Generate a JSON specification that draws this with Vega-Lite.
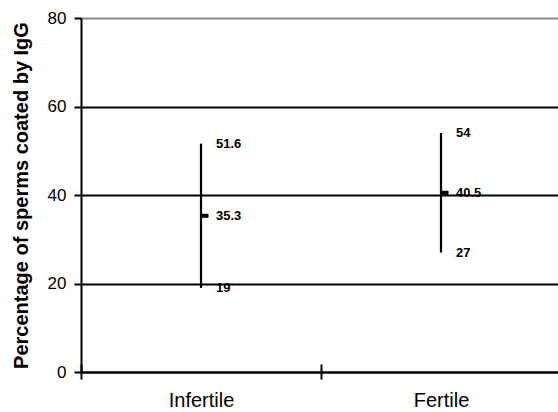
{
  "$schema": "https://vega.github.io/schema/vega-lite/v6.json",
  "autosize": "none",
  "width": 480,
  "height": 354,
  "padding": {"left": 81, "top": 18, "right": 0, "bottom": 40},
  "background": "white",
  "config": {
    "view": {"stroke": null},
    "font": "Liberation Sans"
  },
  "data": {
    "values": [
      {"group": "Infertile", "stat": "high", "value": 51.6},
      {"group": "Infertile", "stat": "mean", "value": 35.3},
      {"group": "Infertile", "stat": "low", "value": 19},
      {"group": "Fertile", "stat": "high", "value": 54},
      {"group": "Fertile", "stat": "mean", "value": 40.5},
      {"group": "Fertile", "stat": "low", "value": 27}
    ]
  },
  "resolve": {"axis": {"x": "independent"}},
  "layer": [
    {
      "mark": {"type": "rule", "color": "black", "strokeWidth": 2.2},
      "encoding": {
        "x": {
          "field": "group", "type": "nominal", "sort": ["Infertile", "Fertile"],
          "scale": {"paddingInner": 0, "paddingOuter": 0},
          "axis": {
            "orient": "bottom",
            "title": null, "labelAngle": 0, "labelFontSize": 20, "labelColor": "black",
            "labelFont": "Liberation Sans", "labelPadding": 11,
            "tickBand": "extent", "tickSize": 7, "tickWidth": 2, "tickColor": "black",
            "domainColor": "black", "domainWidth": 2, "grid": false
          }
        },
        "y": {
          "aggregate": "min", "field": "value", "type": "quantitative",
          "scale": {"domain": [0, 80], "nice": false, "zero": true},
          "axis": {
            "title": "Percentage of sperms coated by IgG",
            "titleFontSize": 20, "titleFontWeight": "bold", "titleColor": "black",
            "titleFont": "Liberation Sans",
            "titleX": -54, "titleY": 177, "titleAlign": "center", "titleBaseline": "alphabetic", "titleAngle": -90,
            "values": [0, 20, 40, 60, 80],
            "labelFontSize": 17, "labelColor": "black", "labelPadding": 8,
            "tickSize": 7, "tickWidth": 2, "tickColor": "black",
            "domainColor": "black", "domainWidth": 2,
            "grid": true, "gridWidth": 2,
            "gridColor": {"condition": {"test": "datum.value == 80", "value": "#888888"}, "value": "black"}
          }
        },
        "y2": {"aggregate": "max", "field": "value"}
      }
    },
    {
      "transform": [{"filter": "datum.stat == 'mean'"}],
      "mark": {"type": "tick", "color": "black", "opacity": 1, "size": 7, "thickness": 4, "xOffset": 4, "orient": "horizontal"},
      "encoding": {
        "x": {
          "field": "group", "type": "nominal", "sort": ["Infertile", "Fertile"],
          "axis": {
            "orient": "bottom",
            "title": null, "labels": false, "domain": false, "grid": false,
            "tickBand": "extent", "tickSize": -8, "tickWidth": 2, "tickColor": "black"
          }
        },
        "y": {"field": "value", "type": "quantitative"}
      }
    },
    {
      "mark": {"type": "text", "align": "left", "baseline": "middle", "dx": 15, "fontSize": 13, "fontWeight": "bold", "color": "black"},
      "encoding": {
        "x": {"field": "group", "type": "nominal", "sort": ["Infertile", "Fertile"], "axis": null},
        "y": {"field": "value", "type": "quantitative"},
        "text": {"field": "value", "type": "quantitative"}
      }
    }
  ]
}
